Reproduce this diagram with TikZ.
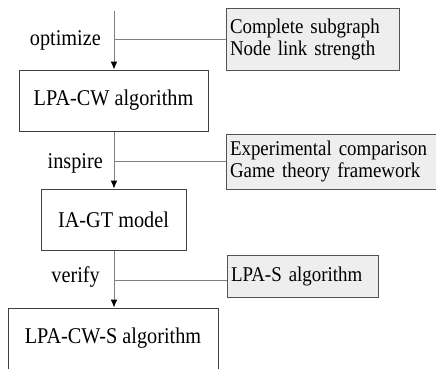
\documentclass[tikz,border=0pt]{standalone}
\usepackage{fontspec}
\setmainfont{Liberation Serif}[FakeStretch=0.9]
\usetikzlibrary{arrows.meta}
\definecolor{boxline}{HTML}{404040}
\definecolor{sidefill}{HTML}{EEEEEE}
\definecolor{connline}{HTML}{808080}
\begin{document}
\begin{tikzpicture}[x=1pt,y=-1pt,
  font=\fontsize{22.5}{24}\selectfont,
  mainbox/.style={draw=boxline,line width=1pt,fill=white,minimum height=61pt,inner sep=0pt},
  sidebox/.style={draw=boxline!90,line width=1pt,fill=sidefill,inner xsep=4pt,inner ysep=0pt,align=left,
    font=\fontsize{21}{22}\selectfont},
  flow/.style={draw=connline,line width=1pt,-{Latex[color=black,length=8pt,width=7pt]}},
  link/.style={draw=connline,line width=1pt},
  lbl/.style={anchor=east,inner sep=0pt}]
\useasboundingbox (0,0) rectangle (436,368);
\node[mainbox,minimum width=189pt] (b1) at (113.5,100.5) {LPA-CW algorithm};
\node[mainbox,minimum width=145pt] (b2) at (113.5,219.5) {IA-GT model};
\node[mainbox,minimum width=210pt] (b3) at (113,338.5) {LPA-CW-S algorithm};
\node[sidebox,minimum height=62pt,text width=165pt] (s1) at (312.5,39) {Complete subgraph\\Node link strength};
\node[sidebox,minimum height=55pt,text width=203pt] (s2) at (331.5,161.5) {Experimental comparison\\Game theory framework};
\node[sidebox,minimum height=42pt,text width=143pt] (s3) at (302.5,276) {LPA-S algorithm};
\coordinate (top) at (114,11);
\coordinate (j1) at (114,39);
\coordinate (j2) at (114,161);
\coordinate (j3) at (114,280);
\draw[flow] (top) -- (top |- b1.north);
\draw[flow] (b1.south -| top) -- (top |- b2.north);
\draw[flow] (b2.south -| top) -- (top |- b3.north);
\draw[link] (j1) -- (j1 -| s1.west);
\draw[link] (j2) -- (j2 -| s2.west);
\draw[link] (j3) -- (j3 -| s3.west);
\node[lbl] (l1) at (101,40) {optimize};
\node[lbl] (l2) at (103,163) {inspire};
\node[lbl] (l3) at (100,277) {verify};
\end{tikzpicture}
\end{document}
